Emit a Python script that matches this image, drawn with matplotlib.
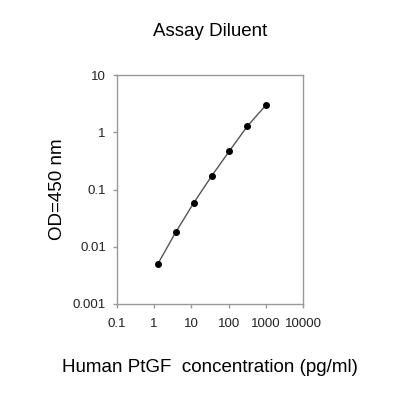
import matplotlib
matplotlib.use("Agg")
import matplotlib.pyplot as plt
import matplotlib.ticker as ticker

# standard curve values
conc = [1.25, 3.8, 11.5, 35, 105, 320, 1000]
od = [0.005, 0.018, 0.058, 0.172, 0.47, 1.28, 2.96]
xtick_vals = [0.1, 1, 10, 100, 1000, 10000]
xtick_labels = ["0.1", "1", "10", "100", "1000", "10000"]
ytick_vals = [0.001, 0.01, 0.1, 1, 10]
ytick_labels = ["0.001", "0.01", "0.1", "1", "10"]

plt.rcParams['font.family'] = ['Liberation Sans', 'DejaVu Sans']

fig = plt.figure(figsize=(4, 4), dpi=100)
ax = fig.add_axes([0.2925, 0.24, 0.465, 0.5725])

ax.plot(conc, od, color="#555555", lw=1.0, marker="o", ms=4,
        markerfacecolor="black", markeredgecolor="black")

ax.set_xscale("log")
ax.set_yscale("log")
ax.set_xlim(0.1, 10000)
ax.set_ylim(0.001, 10)
ax.set_xticks(xtick_vals)
ax.set_xticklabels(xtick_labels)
ax.set_yticks(ytick_vals)
ax.set_yticklabels(ytick_labels)
ax.xaxis.set_minor_locator(ticker.NullLocator())
ax.yaxis.set_minor_locator(ticker.NullLocator())

for s in ax.spines.values():
    s.set_color("#999999")
    s.set_linewidth(1.0)
ax.tick_params(axis="both", direction="out", length=3, width=1,
               color="#999999", labelsize=9.5, labelcolor="#222222")
ax.tick_params(axis="x", pad=7)
ax.tick_params(axis="y", pad=5)

ax.set_xlabel("Human PtGF  concentration (pg/ml)", fontsize=13.5, labelpad=21)
ax.set_ylabel("OD=450 nm", fontsize=13.5, labelpad=5)
fig.text(0.525, 0.922, "Assay Diluent", ha="center", va="center", fontsize=13.5)

fig.savefig("out.png", dpi=100)
